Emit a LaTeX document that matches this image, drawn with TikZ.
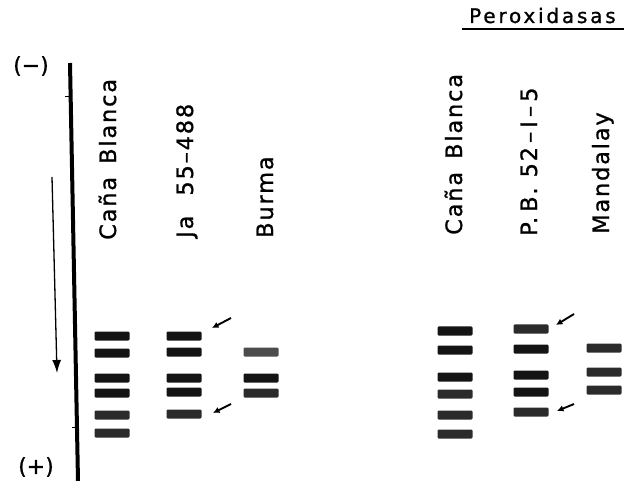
\documentclass[tikz,border=0pt]{standalone}
\usepackage{fontspec}
\setmainfont{DejaVu Sans}[FakeBold=1]
\newfontfamily\labfont{DejaVu Sans}[LetterSpace=8,FakeBold=1]
\newfontfamily\titfont{DejaVu Sans}[LetterSpace=14,FakeBold=1]
\usetikzlibrary{arrows.meta}
\begin{document}
\begin{tikzpicture}[x=1pt,y=-1pt,
  lab/.style={rotate=90,anchor=base west,inner sep=0pt,font=\labfont\fontsize{22.5}{23}\selectfont},
  band/.style={draw=none,fill=black!92,rounded corners=1.2pt,minimum height=9pt,minimum width=35pt,inner sep=0pt},
  faint/.style={fill=black!83},
  pointer/.style={line width=1.9pt,-{Latex[length=6.5pt,width=6.5pt]}},
  pole/.style={font=\fontsize{22}{22}\selectfont,inner sep=0pt}]
\useasboundingbox (0,0) rectangle (635,481);
% axis
\coordinate (ax1) at (70,63);
\coordinate (ax2) at (78,481);
\draw[line width=4pt] (ax1) -- (ax2);
\coordinate (t1a) at (65,97); \coordinate (t1b) at (71,97);
\coordinate (t2a) at (72,427); \coordinate (t2b) at (78,427);
\draw[line width=1pt] (t1a) -- (t1b);
\draw[line width=1pt] (t2a) -- (t2b);
\node[pole] (minus) at (31,66) {(−)};
\node[pole] (plus) at (36,467) {(+)};
\coordinate (ar1) at (52,177);
\coordinate (ar2) at (57,373);
\draw[line width=1.3pt,-{Latex[length=13pt,width=9pt]}] (ar1) -- (ar2);
% title
\node[anchor=base west,inner sep=0pt,font=\titfont\fontsize{20}{20}\selectfont] (title) at (469,23) {Peroxidasas};
\coordinate (u1) at (462,29); \coordinate (u2) at (624,29);
\draw[line width=1.6pt] (u1) -- (u2);
% labels
\node[lab] (l1) at (116,240) {Caña\hspace{13pt}Blanca};
\node[lab] (l2) at (193,238) {Ja\hspace{20pt}55–488};
\node[lab] (l3) at (273,238) {Burma};
\node[lab] (l4) at (462,235) {Caña\hspace{13pt}Blanca};
\node[lab] (l5) at (537,236) {P.\hspace{5pt}B.\hspace{10pt}52\kern4pt–\kern4pt I\kern4pt–\kern4pt 5};
\node[lab] (l6) at (609,234) {Mandalay};
% lane 1
\node[band] (a1) at (112,336) {};
\node[band] (a2) at (112,353) {};
\node[band] (a3) at (112,378) {};
\node[band] (a4) at (112,393) {};
\node[band,faint] (a5) at (112,415) {};
\node[band,faint] (a6) at (112,433) {};
% lane 2
\node[band] (b1) at (184,336) {};
\node[band] (b2) at (184,352) {};
\node[band] (b3) at (184,378) {};
\node[band] (b4) at (184,392) {};
\node[band,faint] (b5) at (184,414) {};
% lane 3
\node[band,fill=black!70] (c1) at (261,352) {};
\node[band] (c2) at (261,378) {};
\node[band,faint] (c3) at (261,393) {};
% lane 4
\node[band] (d1) at (455,331) {};
\node[band] (d2) at (455,350) {};
\node[band] (d3) at (455,377) {};
\node[band,faint] (d4) at (455,394) {};
\node[band,faint] (d5) at (455,415) {};
\node[band,faint] (d6) at (455,434) {};
% lane 5
\node[band,faint] (e1) at (531,329) {};
\node[band] (e2) at (531,349) {};
\node[band] (e3) at (531,375) {};
\node[band] (e4) at (531,392) {};
\node[band,faint] (e5) at (531,412) {};
% lane 6
\node[band,faint] (f1) at (604,348) {};
\node[band,faint] (f2) at (604,372) {};
\node[band,faint] (f3) at (604,390) {};
% marker arrows
\coordinate (m1s) at (231,318); \coordinate (m1e) at (212,328);
\coordinate (m2s) at (231,404); \coordinate (m2e) at (213,413);
\coordinate (m3s) at (574,314); \coordinate (m3e) at (556,325);
\coordinate (m4s) at (574,404); \coordinate (m4e) at (557,411);
\draw[pointer] (m1s) -- (m1e);
\draw[pointer] (m2s) -- (m2e);
\draw[pointer] (m3s) -- (m3e);
\draw[pointer] (m4s) -- (m4e);
\end{tikzpicture}
\end{document}
